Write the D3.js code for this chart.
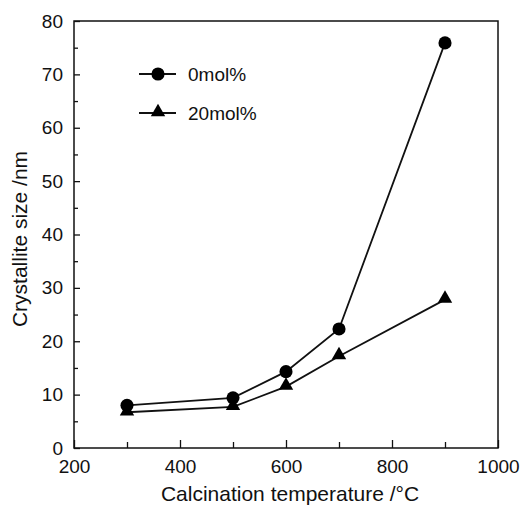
<!DOCTYPE html>
<html>
<head>
<meta charset="utf-8">
<script src="https://cdn.jsdelivr.net/npm/d3@7"></script>
<style>
  body { margin: 0; background: #fff; }
  text { font-family: "Liberation Sans", Arial, sans-serif; fill: #111; }
</style>
</head>
<body>
<script>
// data
const temps = [300, 500, 600, 700, 900];
const size0 = [8.0, 9.4, 14.3, 22.3, 75.9];
const size20 = [6.7, 7.7, 11.5, 17.2, 27.8];
const xTicks = [200, 400, 600, 800, 1000];
const yTicks = [0, 10, 20, 30, 40, 50, 60, 70, 80];
const legendNames = ["0mol%", "20mol%"];

const W = 522, H = 505;
const mLeft = 74, mRight = 498, mTop = 21, mBottom = 448;
const fs = "19px";

const svg = d3.select("body").append("svg")
    .attr("width", W)
    .attr("height", H);

const x = d3.scaleLinear().domain([200, 1000]).range([mLeft, mRight]);
const y = d3.scaleLinear().domain([0, 80]).range([mBottom, mTop]);

// frame
svg.append("rect")
    .attr("x", mLeft).attr("y", mTop)
    .attr("width", mRight - mLeft).attr("height", mBottom - mTop)
    .attr("fill", "none").attr("stroke", "#111").attr("stroke-width", 1.5);

// x axis, ticks point inward
svg.append("g")
    .attr("transform", "translate(0," + mBottom + ")")
    .call(d3.axisBottom(x).tickValues(xTicks).tickSize(-8).tickPadding(12).tickFormat(d3.format("d")));
// minor x ticks
svg.append("g")
    .attr("transform", "translate(0," + mBottom + ")")
    .call(d3.axisBottom(x).tickValues([300, 500, 700, 900]).tickSize(-6).tickFormat(""));

// y axis
svg.append("g")
    .attr("transform", "translate(" + mLeft + ",0)")
    .call(d3.axisLeft(y).tickValues(yTicks).tickSize(-6).tickPadding(11));
svg.append("g")
    .attr("transform", "translate(" + mLeft + ",0)")
    .call(d3.axisLeft(y).tickValues([5, 15, 25, 35, 45, 55, 65, 75]).tickSize(-4).tickFormat(""));

svg.selectAll(".domain").remove();
svg.selectAll(".tick line").attr("stroke", "#111").attr("stroke-width", 1.3);
svg.selectAll(".tick text")
    .style("font-family", "'Liberation Sans', Arial, sans-serif")
    .style("font-size", fs)
    .attr("fill", "#111");

// axis titles
svg.append("text")
    .attr("x", 290).attr("y", 501)
    .attr("text-anchor", "middle")
    .style("font-size", "21px")
    .text("Calcination temperature /\u00b0C");

svg.append("text")
    .attr("transform", "translate(27,239) rotate(-90)")
    .attr("text-anchor", "middle")
    .style("font-size", "21px")
    .text("Crystallite size /nm");

// lines
const line = d3.line().x(d => x(d[0])).y(d => y(d[1]));
const pts0 = temps.map((t, i) => [t, size0[i]]);
const pts20 = temps.map((t, i) => [t, size20[i]]);

svg.append("path").datum(pts0).attr("d", line)
    .attr("fill", "none").attr("stroke", "#111").attr("stroke-width", 1.8);
svg.append("path").datum(pts20).attr("d", line)
    .attr("fill", "none").attr("stroke", "#111").attr("stroke-width", 1.8);

const circ = d3.symbol().type(d3.symbolCircle).size(135);
const tri = d3.symbol().type(d3.symbolTriangle).size(90);

svg.selectAll(".m0").data(pts0).enter().append("path")
    .attr("transform", d => "translate(" + x(d[0]) + "," + y(d[1]) + ")")
    .attr("d", circ).attr("fill", "#000");
svg.selectAll(".m20").data(pts20).enter().append("path")
    .attr("transform", d => "translate(" + x(d[0]) + "," + (y(d[1]) - 1) + ")")
    .attr("d", tri).attr("fill", "#000");

// legend
const legY = [74, 113];
const symbols = [circ, tri];
legendNames.forEach((name, i) => {
    const g = svg.append("g").attr("transform", "translate(0," + legY[i] + ")");
    g.append("line").attr("x1", 139).attr("x2", 176).attr("y1", 0).attr("y2", 0)
        .attr("stroke", "#111").attr("stroke-width", 1.8);
    g.append("path").attr("transform", "translate(158," + (i ? -1 : 0) + ")")
        .attr("d", symbols[i]).attr("fill", "#000");
    g.append("text").attr("x", 188).attr("y", 7)
        .style("font-size", fs)
        .text(name);
});
</script>
</body>
</html>
